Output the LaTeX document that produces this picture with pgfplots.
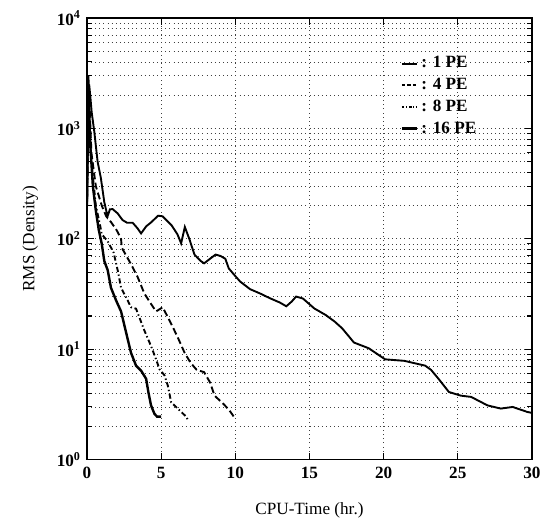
\documentclass[border=0pt]{standalone}
\usepackage{fontspec}
\setmainfont{Liberation Serif}
\usepackage{pgfplots}
\pgfplotsset{compat=1.18}
\usetikzlibrary{calc}

\begin{document}
\begin{tikzpicture}
\begin{semilogyaxis}[
  name=ax, scale only axis, width=259pt, height=257pt,
  xmin=0, xmax=30, ymin=1, ymax=10000,
  xtick={0,5,...,30}, xticklabels={0,5,10,15,20,25,30},
  ytick={1,10,100,1000,10000},
  yticklabels={10\textsuperscript{0},10\textsuperscript{1},10\textsuperscript{2},10\textsuperscript{3},10\textsuperscript{4}},
  tick label style={font=\bfseries},
  xticklabel style={yshift=-1pt},
  xlabel={CPU-Time (hr.)}, ylabel={RMS (Density)},
  xlabel style={yshift=-7pt}, ylabel style={yshift=4pt},
  xmajorgrids, ymajorgrids, yminorgrids,
  major grid style={dotted, black!75, line width=0.45pt},
  minor grid style={dotted, black!75, line width=0.45pt},
  tick align=inside, major tick length=4pt, minor tick length=3pt,
  tick style={black, line width=0.6pt},
  axis line style={line width=0.9pt},
  legend style={draw=none, fill=none, font=\bfseries, at={(0.70,0.925)}, anchor=north west,
    row sep=0.5pt, inner sep=1pt},
  legend cell align=left,
]
% 1 PE
\addplot[black, line width=1.1pt, legend image code/.code={\draw[black, line width=1.1pt] (0,0) -- (0.3cm,0);}] coordinates {
(0,180) (0.08,1200) (0.15,2500) (0.22,2000) (0.32,1400) (0.49,950) (0.72,500) (0.94,355)
(1.17,215) (1.39,160) (1.55,185) (1.73,186) (2.07,170) (2.4,148) (2.7,140) (3.08,140)
(3.4,125) (3.65,112) (4.0,130) (4.3,140) (4.8,162) (5.1,160) (5.7,133) (6.1,110) (6.35,91)
(6.6,128) (6.9,100) (7.25,72) (7.67,63) (7.9,60) (8.3,66) (8.67,72) (9.0,70) (9.33,66)
(9.56,54) (10.0,46) (10.33,41) (11.0,35) (11.67,32) (12.33,29) (13.0,26.5) (13.44,24.5)
(13.8,27) (14.1,30) (14.56,28.8) (15.33,23.4) (16.1,20.4) (16.7,17.8) (17.2,15.5) (18.0,11.5)
(19.0,10.2) (20.1,8.1) (21.4,7.85) (22.8,7.1) (23.2,6.5) (23.7,5.4) (24.4,4.1) (25.2,3.8)
(25.9,3.7) (27.0,3.1) (27.9,2.9) (28.7,3.0) (29.7,2.7) (30,2.65)};
\addlegendentry{: 1 PE}
% 4 PE
\addplot[black, line width=1.1pt, dash pattern=on 4pt off 2pt, legend image code/.code={\draw[black, line width=1.1pt, dash pattern=on 2pt off 1.2pt] (0,0) -- (0.3cm,0);}] coordinates {
(0,200) (0.1,3000) (0.3,600) (0.6,300) (1.0,200) (1.3,160) (1.62,142) (2.0,120) (2.3,100)
(2.35,83) (2.97,59) (3.42,45) (3.87,32) (4.3,26) (4.66,22) (5.11,24) (5.68,17) (6.1,13)
(6.58,9.3) (7.0,7.5) (7.4,6.5) (7.9,6.2) (8.3,5.0) (8.6,3.8) (9.2,3.2) (9.6,2.8) (9.95,2.4)};
\addlegendentry{: 4 PE}
% 8 PE
\addplot[black, line width=1.1pt, dash pattern=on 3pt off 1.5pt on 0.8pt off 1.5pt, legend image code/.code={\draw[black, line width=1.1pt, dash pattern=on 1.5pt off 1pt on 0.6pt off 1pt] (0,0) -- (0.3cm,0);}] coordinates {
(0,180) (0.1,2000) (0.3,500) (0.6,200) (0.9,130) (1.0,110) (1.4,95) (1.8,75) (2.1,50)
(2.3,36) (2.75,27.6) (2.97,24) (3.31,23.3) (3.87,14.8) (4.32,10.7) (4.66,8.1) (4.89,6.6)
(5.23,5.8) (5.45,4.7) (5.68,3.3) (5.9,3.1) (6.24,2.8) (6.69,2.45) (6.8,2.3)};
\addlegendentry{: 8 PE}
% 16 PE
\addplot[black, line width=1.4pt, legend image code/.code={\draw[black, line width=1.6pt] (0,0) -- (0.3cm,0);}] coordinates {
(0,200) (0.1,2500) (0.2,800) (0.4,300) (0.6,180) (0.8,120) (1.0,90) (1.17,63) (1.4,52)
(1.62,36) (2.0,27) (2.3,22) (2.75,12.3) (2.97,9.3) (3.31,7.1) (3.65,6.4) (3.99,5.4)
(4.14,4.1) (4.32,3.1) (4.55,2.6) (4.73,2.45) (5.0,2.45)};
\addlegendentry{: 16 PE}
\end{semilogyaxis}
\pgfresetboundingbox
\path ($(ax.south west)+(-50.6pt,-37pt)$) rectangle ($(ax.north east)+(7.6pt,10.5pt)$);
\end{tikzpicture}
\end{document}
